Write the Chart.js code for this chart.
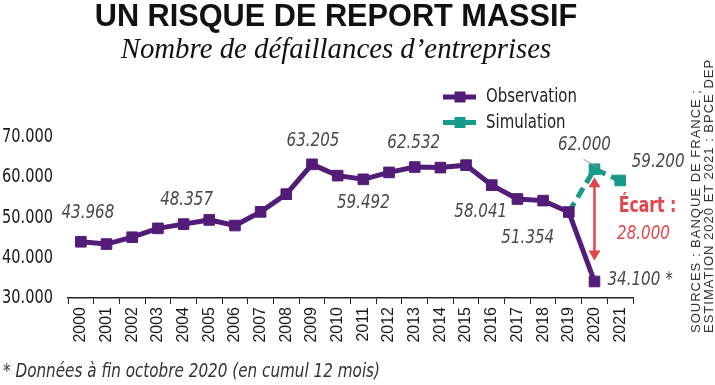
<!DOCTYPE html>
<html>
<head>
<meta charset="utf-8">
<script src="https://cdn.jsdelivr.net/npm/chart.js@4.4.1/dist/chart.umd.min.js"></script>
<style>
  body { margin: 0; background: #fff; }
  #wrap { position: relative; width: 715px; height: 385px; overflow: hidden; }
  #wrap canvas { position: absolute; left: 0; top: 0; }
  .txt { position: absolute; white-space: nowrap; }
  #title { left: 0; width: 672px; top: 1px; text-align: center; font: bold 30.7px 'Liberation Sans', Arial, sans-serif; line-height: 30px; color: #111; }
  #subtitle { left: 0; width: 672px; top: 33px; text-align: center; font: italic 28.8px 'Liberation Serif', 'DejaVu Serif', serif; line-height: 30px; color: #111; }
  #note { left: 3px; top: 360px; font: italic 19px 'DejaVu Sans Condensed', sans-serif; line-height: 20px; color: #333;
          transform-origin: 0 0; transform: scaleX(0.89); }
  #sources { left: 690px; top: 333px; width: 300px; height: 26px; transform-origin: 0 0; transform: rotate(-90deg);
             font: 13px 'Liberation Sans', Arial, sans-serif; line-height: 12.5px; color: #333; letter-spacing: 1px; }
</style>
</head>
<body>
<div id="wrap">
  <canvas id="chart" width="715" height="385"></canvas>
  <div id="title" class="txt">UN RISQUE DE REPORT MASSIF</div>
  <div id="subtitle" class="txt">Nombre de défaillances d’entreprises</div>
  <div id="note" class="txt">* Données à fin octobre 2020 (en cumul 12 mois)</div>
  <div id="sources" class="txt">SOURCES : BANQUE DE FRANCE ;<br>ESTIMATION 2020 ET 2021 : BPCE DEP</div>
</div>
<script>
const years = ['2000', '2001', '2002', '2003', '2004', '2005', '2006', '2007', '2008', '2009', '2010',
               '2011', '2012', '2013', '2014', '2015', '2016', '2017', '2018', '2019', '2020', '2021'];
const observed = [43968, 43400, 45100, 47300, 48357, 49400, 48000, 51400, 55800, 63205, 60400,
                  59492, 61200, 62532, 62400, 63000, 58041, 54600, 54200, 51354, 34100, null];
const simulated = [null, null, null, null, null, null, null, null, null, null, null,
                   null, null, null, null, null, null, null, null, 51354, 62000, 59200];
const yMin = 30000, yMax = 70000, yStep = 10000;

const PURPLE = '#531c79';
const TEAL = '#169a8b';
const RED = '#e0474c';
const COND = "'DejaVu Sans Condensed', sans-serif";

function fmt(v) {
    return String(v).replace(/\B(?=(\d{3})+(?!\d))/g, '.');
}

// narrow text: condensed font squeezed a bit more
function narrowText(ctx, text, x, y, align, font, color, sx) {
    ctx.save();
    ctx.translate(x, y);
    ctx.scale(sx || 0.83, 1);
    ctx.font = font;
    ctx.fillStyle = color;
    ctx.textAlign = align;
    ctx.textBaseline = 'middle';
    ctx.fillText(text, 0, 0);
    ctx.restore();
}

// labels next to points: dataset, index, offset
const valueLabels = [
    { ds: 0, i: 0, dx: 7, dy: -29 },
    { ds: 0, i: 4, dx: 3, dy: -24 },
    { ds: 0, i: 9, dx: 1, dy: -24 },
    { ds: 0, i: 11, dx: 0, dy: 24 },
    { ds: 0, i: 13, dx: -1, dy: -24 },
    { ds: 0, i: 16, dx: -11, dy: 27 },
    { ds: 0, i: 19, dx: -41, dy: 26 },
    { ds: 0, i: 20, dx: 13, dy: -2, align: 'left', suffix: ' *' },
    { ds: 1, i: 20, dx: -10, dy: -24 },
    { ds: 1, i: 21, dx: 38, dy: -19 }
];

const overlay = {
    id: 'overlay',
    afterDatasetsDraw(chart) {
        const ctx = chart.ctx;
        const xs = chart.scales.x, ys = chart.scales.y;
        ctx.save();

        // y tick labels
        ys.ticks.forEach(t => {
            narrowText(ctx, fmt(t.value), 53, ys.getPixelForValue(t.value), 'right', '20px ' + COND, '#1a1a1a', 0.81);
        });

        // leader line to the 2020 simulation point
        const sp = chart.getDatasetMeta(1).data[20];
        ctx.strokeStyle = '#9a9a9a';
        ctx.lineWidth = 1;
        ctx.beginPath();
        ctx.moveTo(sp.x - 11, sp.y - 10);
        ctx.lineTo(sp.x + 3, sp.y - 2);
        ctx.stroke();

        // value labels
        valueLabels.forEach(l => {
            const p = chart.getDatasetMeta(l.ds).data[l.i];
            const v = chart.data.datasets[l.ds].data[l.i];
            narrowText(ctx, fmt(v) + (l.suffix || ''), p.x + l.dx, p.y + l.dy, l.align || 'center',
                       'italic 20px ' + COND, '#484848', 0.84);
        });

        // gap arrow
        const k = years.indexOf('2020');
        const ax = xs.getPixelForValue(k);
        const top = ys.getPixelForValue(simulated[k]) + 8;
        const bot = ys.getPixelForValue(observed[k]) - 21;
        ctx.strokeStyle = RED;
        ctx.fillStyle = RED;
        ctx.lineWidth = 2.5;
        ctx.beginPath();
        ctx.moveTo(ax, top + 8);
        ctx.lineTo(ax, bot - 8);
        ctx.stroke();
        ctx.beginPath();
        ctx.moveTo(ax, top); ctx.lineTo(ax - 6, top + 10); ctx.lineTo(ax + 6, top + 10); ctx.closePath();
        ctx.moveTo(ax, bot); ctx.lineTo(ax - 6, bot - 10); ctx.lineTo(ax + 6, bot - 10); ctx.closePath();
        ctx.fill();

        const gap = Math.round((simulated[k] - observed[k]) / 1000) * 1000;
        const mid = (top + bot) / 2;
        narrowText(ctx, 'Écart :', ax + 53, mid - 12, 'center', 'bold 21px ' + COND, RED, 0.83);
        narrowText(ctx, fmt(gap), ax + 49, mid + 15, 'center', 'italic 20px ' + COND, RED, 0.84);

        // legend
        chart.data.datasets.forEach((ds, j) => {
            const ly = 97 + j * 25.5;
            ctx.strokeStyle = ds.borderColor;
            ctx.fillStyle = ds.borderColor;
            ctx.lineWidth = 5;
            ctx.beginPath();
            ctx.moveTo(443, ly);
            ctx.lineTo(476, ly);
            ctx.stroke();
            ctx.fillRect(454.5, ly - 5.5, 11, 11);
            narrowText(ctx, ds.label, 486, ly, 'left', '20px ' + COND, '#222', 0.83);
        });
        ctx.restore();
    }
};

new Chart(document.getElementById('chart'), {
    type: 'line',
    data: {
        labels: years,
        datasets: [{
            label: 'Observation',
            data: observed,
            borderColor: PURPLE,
            backgroundColor: PURPLE,
            borderWidth: 5,
            pointStyle: 'rect',
            pointRadius: 7.5,
            pointBorderWidth: 1,
            tension: 0
        }, {
            label: 'Simulation',
            data: simulated,
            borderColor: TEAL,
            backgroundColor: TEAL,
            borderWidth: 5,
            borderDash: [11, 6],
            pointStyle: 'rect',
            pointRadius: ctx => (ctx.dataIndex === 19 ? 0 : 7.5),
            pointBorderWidth: 1,
            tension: 0
        }]
    },
    options: {
        responsive: false,
        animation: false,
        devicePixelRatio: 1,
        layout: { padding: { left: 0, right: 82, top: 137, bottom: 0 } },
        plugins: { legend: { display: false }, tooltip: { enabled: false } },
        scales: {
            x: {
                offset: true,
                afterFit: s => { s.height = 87; },
                grid: { display: true, drawOnChartArea: false, drawTicks: true, tickLength: 6, color: '#222', offset: true },
                border: { display: true, color: '#222', width: 1.5 },
                ticks: { autoSkip: false, minRotation: 90, maxRotation: 90, padding: 3, color: '#1a1a1a',
                         font: { family: "'Liberation Sans', Arial, sans-serif", size: 16 } }
            },
            y: {
                min: yMin,
                max: yMax,
                afterFit: s => { s.width = 68; },
                grid: { display: false, drawTicks: false },
                border: { display: false },
                ticks: { display: false, stepSize: yStep }
            }
        }
    },
    plugins: [overlay]
});
</script>
</body>
</html>
